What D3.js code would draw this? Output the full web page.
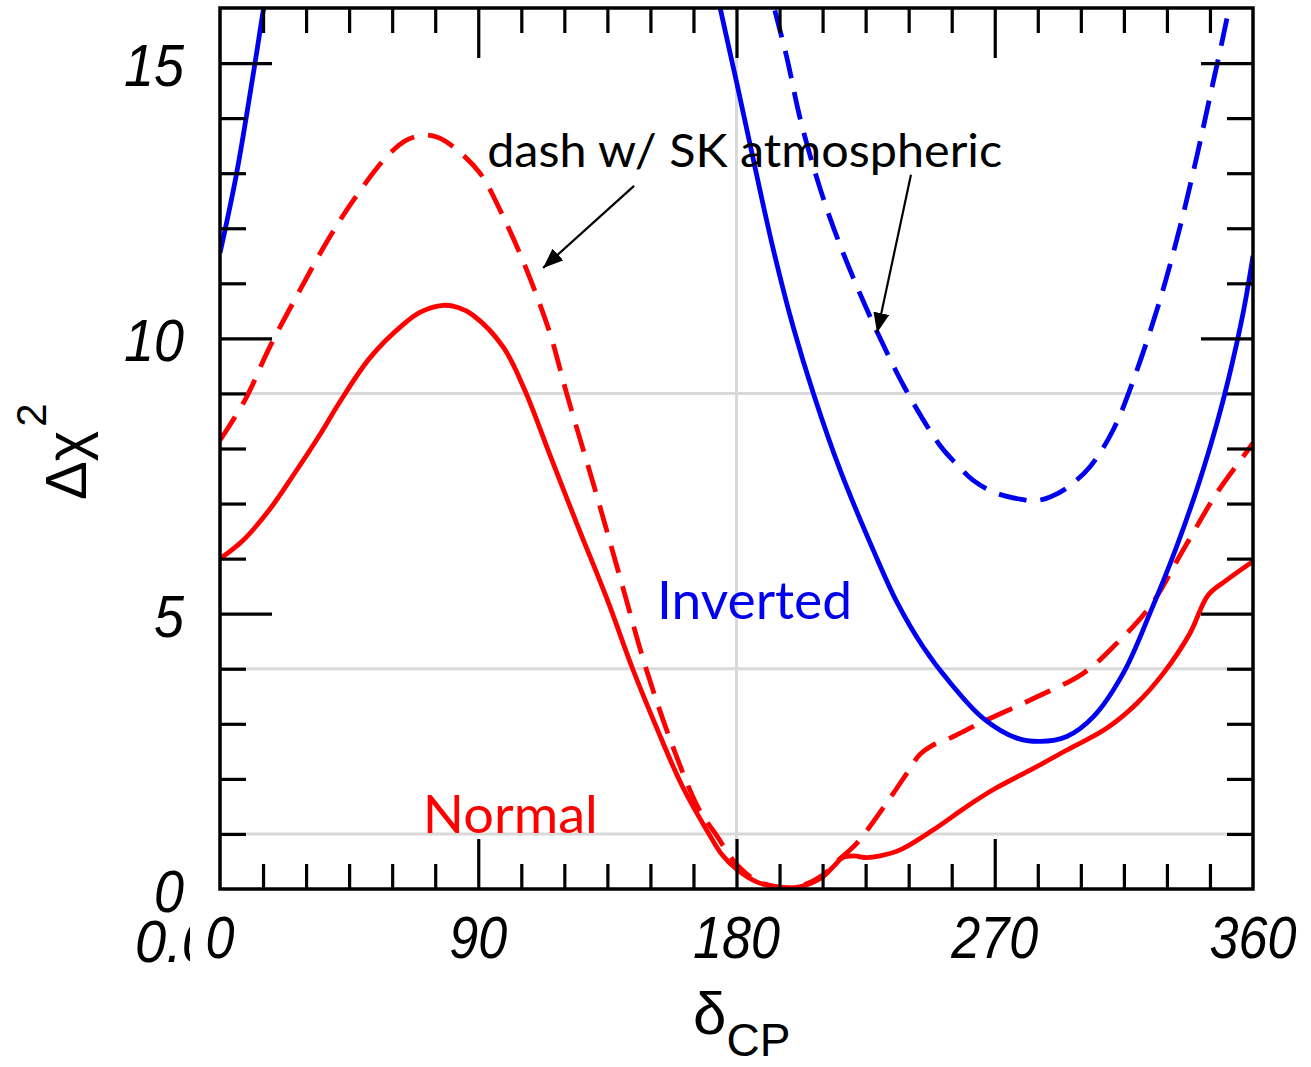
<!DOCTYPE html>
<html>
<head>
<meta charset="utf-8">
<script src="https://cdnjs.cloudflare.com/ajax/libs/d3/7.8.5/d3.min.js"></script>
<style>
  body{margin:0;background:#fff;}
</style>
</head>
<body>
<div class="chart"></div>
<script>
// [delta_CP (deg), delta chi^2]
var normalSolid=[[0,6.0],[8,6.33],[17.4,6.9],[26,7.55],[34.8,8.25],[41.8,8.85],[52.3,9.65],[63.8,10.25],[70,10.48],[77.7,10.6],
  [83,10.56],[88.2,10.42],[98.6,9.85],[106.3,9.05],[115,7.88],[125,6.55],[135,5.25],[143.8,4.0],[152,2.95],[161,1.88],
  [170.4,1.0],[175,0.62],[180,0.36],[187,0.13],[195,0.03],[202,0.04],[210,0.22],[214,0.42],[217,0.57],[221,0.6],
  [225.4,0.57],[230,0.6],[237,0.71],[248.5,1.07],[260,1.49],[270,1.82],[283.5,2.19],[295,2.52],[309,2.92],
  [319.5,3.37],[328.8,3.92],[338,4.64],[344.4,5.34],[350.8,5.61],[360,5.95]];

var normalDash=[[0,8.15],[8.7,8.88],[17.4,9.85],[27.9,10.88],[37.2,11.75],[46.5,12.51],[58.1,13.3],[65,13.6],[70.9,13.69],
  [76,13.65],[81.3,13.48],[90.6,13.0],[98.7,12.21],[106.9,11.24],[115,10.09],[120.8,9.0],[131,7.2],[140,5.55],
  [148.5,4.0],[157.7,2.6],[166.9,1.45],[172.7,1.0],[180,0.45],[187,0.15],[195,0.03],[202,0.05],[210,0.25],[215,0.5],
  [221.9,0.83],[228.9,1.31],[234.7,1.74],[240,2.15],[244,2.45],[248,2.6],[254.4,2.74],[266,3.04],[283.5,3.46],
  [300.9,3.92],[312.5,4.46],[324.1,5.13],[335.7,6.16],[347.4,7.19],[357.8,7.94],[360,8.1]];

var invertedSolid=[[0,11.55],[5.8,13.0],[12.2,15.0],[15.1,15.96],[17,16.5],[100,null],
  [172,16.6],[174.3,16.0],[180,14.66],[185.9,13.24],[192.8,11.62],[199.8,10.2],[206.8,9.0],[216.1,7.61],[227.7,6.15],
  [236,5.2],[245,4.4],[254.4,3.75],[266,3.1],[277.7,2.74],[285.8,2.68],[295.1,2.77],[304.4,3.13],[314.8,3.92],
  [324.1,5.01],[333.4,6.22],[341.5,7.43],[347.4,8.45],[351.4,9.25],[356.7,10.5],[360,11.5]];

var invertedDash=[[190,16.7],[193.4,15.95],[197.5,15.11],[202.1,14.01],[208,12.91],[213.8,12.01],[220.7,11.1],
  [228.9,10.13],[239.3,9.04],[251,8.05],[257,7.7],[262.5,7.42],[270,7.2],[278.8,7.08],[284,7.05],[289.3,7.12],
  [295,7.28],[303.2,7.67],[311.3,8.34],[318.3,9.24],[327.6,10.7],[334.6,12.03],[340.4,13.3],[345,14.39],
  [350.8,15.78],[353,16.4]];

var xLabels=[0,90,180,270,360];
var yLabels=[0,5,10,15];
var xMajor=[90,180,270];
var xMinor=[15,30,45,60,75,105,120,135,150,165,195,210,225,240,255,285,300,315,330,345];
var yMajor=[5,10,15];
var yMinor=[1,2,3,4,6,7,8,9,11,12,13,14];
var gridY=[1,4,9];
var gridX=[180];

var width=1311, height=1067;
var margin={top:8, left:220, right:58, bottom:178};

var xScale=d3.scaleLinear().domain([0,360]).range([margin.left, width-margin.right]);
var yScale=d3.scaleLinear().domain([0,16]).range([height-margin.bottom, margin.top]);

var red="#ff0000", blue="#0000f0";

var svg=d3.select(".chart").append("svg")
  .attr("width",width).attr("height",height)
  .style("font-family","'Liberation Sans', Arial, sans-serif");

var defs=svg.append("defs");
defs.append("clipPath").attr("id","plotclip").append("rect")
  .attr("x",xScale(0)).attr("y",yScale(16))
  .attr("width",xScale(360)-xScale(0)).attr("height",yScale(0)-yScale(16));
defs.append("clipPath").attr("id","lblclip").append("rect")
  .attr("x",0).attr("y",0).attr("width",190).attr("height",height);
defs.append("marker").attr("id","arrow")
  .attr("markerUnits","userSpaceOnUse")
  .attr("viewBox","0 0 20 16").attr("refX",20).attr("refY",8)
  .attr("markerWidth",20).attr("markerHeight",16).attr("orient","auto")
  .append("path").attr("d","M0,0 L20,8 L0,16 Z").attr("fill","#000");

// grid
svg.selectAll(".gy").data(gridY).enter().append("line")
  .attr("x1",xScale(0)).attr("x2",xScale(360))
  .attr("y1",function(d){return yScale(d)}).attr("y2",function(d){return yScale(d)})
  .attr("stroke","#d9d9d9").attr("stroke-width",3);
svg.selectAll(".gx").data(gridX).enter().append("line")
  .attr("y1",yScale(0)).attr("y2",yScale(16))
  .attr("x1",function(d){return xScale(d)}).attr("x2",function(d){return xScale(d)})
  .attr("stroke","#d9d9d9").attr("stroke-width",3);

// curves
var line=d3.line()
  .defined(function(d){return d[1]!==null})
  .x(function(d){return xScale(d[0])})
  .y(function(d){return yScale(d[1])})
  .curve(d3.curveCatmullRom.alpha(0.5));

var curves=svg.append("g").attr("clip-path","url(#plotclip)");
curves.append("path").datum(normalSolid).attr("d",line)
  .attr("fill","none").attr("stroke",red).attr("stroke-width",4.8);
curves.append("path").datum(normalDash).attr("d",line)
  .attr("fill","none").attr("stroke",red).attr("stroke-width",4.8).attr("stroke-dasharray","28,14");
curves.append("path").datum(invertedSolid).attr("d",line)
  .attr("fill","none").attr("stroke",blue).attr("stroke-width",4.8);
curves.append("path").datum(invertedDash).attr("d",line)
  .attr("fill","none").attr("stroke",blue).attr("stroke-width",4.8).attr("stroke-dasharray","28,14");

// ticks
function ticks(axisFn, scale, values, size, tr){
  var g=svg.append("g").attr("transform",tr)
    .call(axisFn(scale).tickValues(values).tickSize(size).tickSizeOuter(0).tickFormat(""));
  g.select(".domain").remove();
  g.selectAll("line").attr("stroke","#000").attr("stroke-width",3.2);
}
ticks(d3.axisBottom,xScale,xMinor,-25,"translate(0,"+yScale(0)+")");
ticks(d3.axisBottom,xScale,xMajor,-50,"translate(0,"+yScale(0)+")");
ticks(d3.axisTop,xScale,xMinor,-25,"translate(0,"+yScale(16)+")");
ticks(d3.axisTop,xScale,xMajor,-50,"translate(0,"+yScale(16)+")");
ticks(d3.axisLeft,yScale,yMinor,-26,"translate("+xScale(0)+",0)");
ticks(d3.axisLeft,yScale,yMajor,-52,"translate("+xScale(0)+",0)");
ticks(d3.axisRight,yScale,yMinor,-26,"translate("+xScale(360)+",0)");
ticks(d3.axisRight,yScale,yMajor,-52,"translate("+xScale(360)+",0)");

// frame
svg.append("rect")
  .attr("x",xScale(0)).attr("y",yScale(16))
  .attr("width",xScale(360)-xScale(0)).attr("height",yScale(0)-yScale(16))
  .attr("fill","none").attr("stroke","#000").attr("stroke-width",3.5);

// tick labels
svg.selectAll(".xl").data(xLabels).enter().append("text")
  .attr("x",function(d){return xScale(d)}).attr("y",yScale(0)+69)
  .attr("text-anchor","middle").attr("font-size",60).attr("font-style","italic")
  .attr("textLength",function(d){return String(d).length*29})
  .attr("lengthAdjust","spacingAndGlyphs")
  .text(function(d){return d});
svg.append("text").attr("clip-path","url(#lblclip)")
  .attr("x",135).attr("y",yScale(0)+73)
  .attr("font-size",60).attr("font-style","italic")
  .attr("textLength",78).attr("lengthAdjust","spacingAndGlyphs")
  .text("0.0");
svg.selectAll(".yl").data(yLabels).enter().append("text")
  .attr("x",184).attr("y",function(d){return yScale(d)+23})
  .attr("text-anchor","end").attr("font-size",60).attr("font-style","italic")
  .attr("textLength",function(d){return String(d).length*30})
  .attr("lengthAdjust","spacingAndGlyphs")
  .text(function(d){return d});

// axis titles
var yt=svg.append("text").attr("transform","translate(86,500) rotate(-90)")
  .attr("font-size",58);
yt.append("tspan").text("\u0394");
yt.append("tspan").text("\u03C7");
yt.append("tspan").attr("dy",-40).attr("dx",4).attr("font-size",42).text("2");

var xt=svg.append("text").attr("x",693).attr("y",1034).attr("font-size",60);
xt.append("tspan").text("\u03B4");
xt.append("tspan").attr("dy",22).attr("font-size",46).text("CP");

// annotations
svg.append("text").attr("x",xScale(93.1)).attr("y",yScale(13.11))
  .attr("font-family","Lato, 'Open Sans', sans-serif").attr("font-size",46)
  .attr("textLength",515).attr("lengthAdjust","spacingAndGlyphs")
  .attr("fill","#000").text("dash w/ SK atmospheric");
svg.append("text").attr("x",xScale(152.3)).attr("y",yScale(4.9))
  .attr("font-family","Lato, 'Open Sans', sans-serif").attr("font-size",52)
  .attr("textLength",195).attr("lengthAdjust","spacingAndGlyphs")
  .attr("fill",blue).text("Inverted");
svg.append("text").attr("x",xScale(70.7)).attr("y",yScale(1.02))
  .attr("font-family","Lato, 'Open Sans', sans-serif").attr("font-size",52)
  .attr("textLength",175).attr("lengthAdjust","spacingAndGlyphs")
  .attr("fill",red).text("Normal");

var arrows=[{from:[144.3,12.77],to:[112.6,11.28]},{from:[240.8,12.97],to:[229,10.1]}];
svg.selectAll(".arr").data(arrows).enter().append("line")
  .attr("x1",function(d){return xScale(d.from[0])}).attr("y1",function(d){return yScale(d.from[1])})
  .attr("x2",function(d){return xScale(d.to[0])}).attr("y2",function(d){return yScale(d.to[1])})
  .attr("stroke","#000").attr("stroke-width",2.2).attr("marker-end","url(#arrow)");
</script>
</body>
</html>
